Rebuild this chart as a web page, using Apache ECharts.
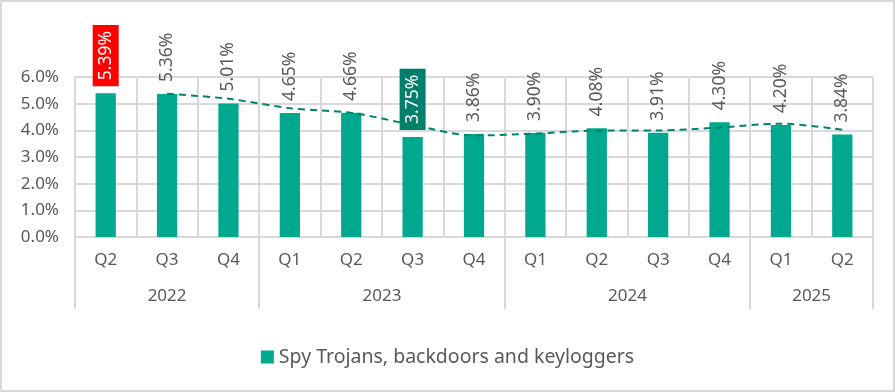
<!DOCTYPE html>
<html>
<head>
<meta charset="utf-8">
<script src="https://cdn.jsdelivr.net/npm/echarts@6/dist/echarts.min.js"></script>
<style>
html,body{margin:0;padding:0;background:#fff;}
#c{width:895px;height:392px;box-sizing:border-box;border:2px solid #d9d9d9;}
</style>
</head>
<body>
<div id="c"></div>
<script>
const quarters = ['Q2','Q3','Q4','Q1','Q2','Q3','Q4','Q1','Q2','Q3','Q4','Q1','Q2'];
const years = ['2022','2023','2024','2025'];
const quartersPerYear = [3,4,4,2];
const values = [5.39,5.36,5.01,4.65,4.66,3.75,3.86,3.90,4.08,3.91,4.30,4.20,3.84];
const movingAvg = [null,5.375,5.185,4.83,4.655,4.205,3.805,3.88,3.99,3.995,4.105,4.25,4.02];
const yTicks = [0,1,2,3,4,5,6];
const seriesName = 'Spy Trojans, backdoors and keyloggers';

const FONT = '"Noto Sans", sans-serif';
const TXT = '#595959';
const GRID = '#d9d9d9';
const highlight = {0:'#ff0000', 5:'#007f6a'};

// year boundaries / centers from group sizes
const bounds = [0];
quartersPerYear.forEach(n => bounds.push(bounds[bounds.length-1] + n));
const centers = quartersPerYear.map((n,i) => bounds[i] + n/2);

const barData = values.map((v,i) => {
  if (highlight[i]) {
    return {value: v, label: {color:'#fff', backgroundColor: highlight[i], padding:[5,6,3,6], distance:7}};
  }
  return v;
});

const chart = echarts.init(document.getElementById('c'), null, {renderer:'canvas'});
chart.setOption({
  animation:false,
  textStyle:{fontFamily:FONT},
  grid:{left:73, right:20, top:75, bottom:153, containLabel:false},
  legend:{
    data:[seriesName], bottom:18, left:'center',
    icon:'rect', itemWidth:13, itemHeight:13, itemGap:6,
    textStyle:{color:TXT, fontSize:19.5, fontFamily:FONT}
  },
  xAxis:[
    {
      type:'category', data:quarters, position:'bottom',
      axisLine:{show:true, lineStyle:{color:GRID, width:2}},
      axisTick:{show:false},
      axisLabel:{color:TXT, fontSize:17, margin:15, fontFamily:FONT},
      splitLine:{show:true, lineStyle:{color:GRID, width:2}}
    },
    {
      type:'value', min:0, max:quarters.length, position:'bottom',
      axisLine:{show:false},
      axisTick:{show:true, customValues:bounds, length:72, lineStyle:{color:GRID, width:2}},
      axisLabel:{show:true, customValues:centers, color:TXT, fontSize:17, margin:51, fontFamily:FONT,
        formatter:(v)=>{ const i = centers.indexOf(v); return i>=0 ? years[i] : ''; }},
      splitLine:{show:false}
    }
  ],
  yAxis:{
    type:'value', min:yTicks[0], max:yTicks[yTicks.length-1], interval:1,
    axisLine:{show:false}, axisTick:{show:false},
    axisLabel:{color:TXT, fontSize:17, margin:16, fontFamily:FONT, formatter:(v)=>v.toFixed(1)+'%'},
    splitLine:{show:true, lineStyle:{color:GRID, width:2}}
  },
  series:[
    {
      name:seriesName, type:'bar', data:barData, barWidth:'33%',
      itemStyle:{color:'#00a88e'},
      label:{show:true, position:'top', rotate:90, align:'left', verticalAlign:'middle', distance:12,
        color:TXT, fontSize:17.5, fontFamily:FONT, formatter:(p)=>p.value.toFixed(2)+'%'}
    },
    {
      name:'2 per. Mov. Avg.', type:'line', data:movingAvg, smooth:0.3, symbol:'none',
      lineStyle:{color:'#00826d', width:2, type:[7,5]}, z:5
    }
  ]
});
</script>
</body>
</html>
